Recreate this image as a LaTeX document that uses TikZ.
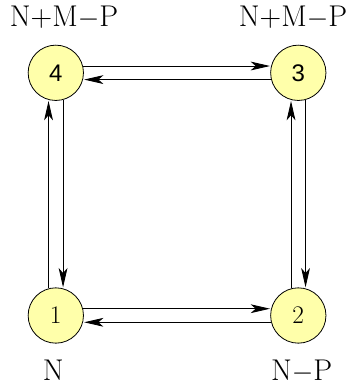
\documentclass[tikz,border=0pt]{standalone}
\usepackage{fontspec}
\newfontfamily\digsans{Liberation Sans}
\usetikzlibrary{arrows.meta}
\definecolor{nodefill}{RGB}{255,255,170}
\tikzset{
  state/.style={circle, draw=black, line width=0.6pt, fill=nodefill, minimum size=41.5pt, inner sep=0pt, font=\fontsize{19}{19}\selectfont},
  lbl/.style={anchor=base, inner sep=0pt, font=\fontsize{22.5}{22.5}\selectfont},
  conn/.style={line width=0.65pt, -{Stealth[length=14.5pt, width=6.6pt, inset=3.8pt]}, shorten >=0.8pt}
}
\begin{document}
\begin{tikzpicture}[x=0.75pt,y=-0.75pt]
\useasboundingbox (0,0) rectangle (355,387);
\node[state] (n4) at (55.8,72.8) {\digsans\fontsize{18}{18}\selectfont 4};
\node[state] (n3) at (298.3,72.8) {\digsans\fontsize{18}{18}\selectfont 3};
\node[state] (n1) at (55.8,315.5) {1};
\node[state] (n2) at (298.3,315.5) {2};
\node[lbl] (l4) at (64,26) {N+M$-$P};
\node[lbl] (l3) at (293,26) {N+M$-$P};
\node[lbl] (l1) at (53.3,380.7) {N};
\node[lbl] (l2) at (301.7,380.7) {N$-$P};
% top pair
\draw[conn] (n4.14) -- (n3.166);
\draw[conn] (n3.194) -- (n4.346);
% bottom pair
\draw[conn] (n1.14) -- (n2.166);
\draw[conn] (n2.194) -- (n1.346);
% left pair
\draw[conn] (n1.105) -- (n4.255);
\draw[conn] (n4.285) -- (n1.75);
% right pair
\draw[conn] (n2.105) -- (n3.255);
\draw[conn] (n3.285) -- (n2.75);
\end{tikzpicture}
\end{document}
